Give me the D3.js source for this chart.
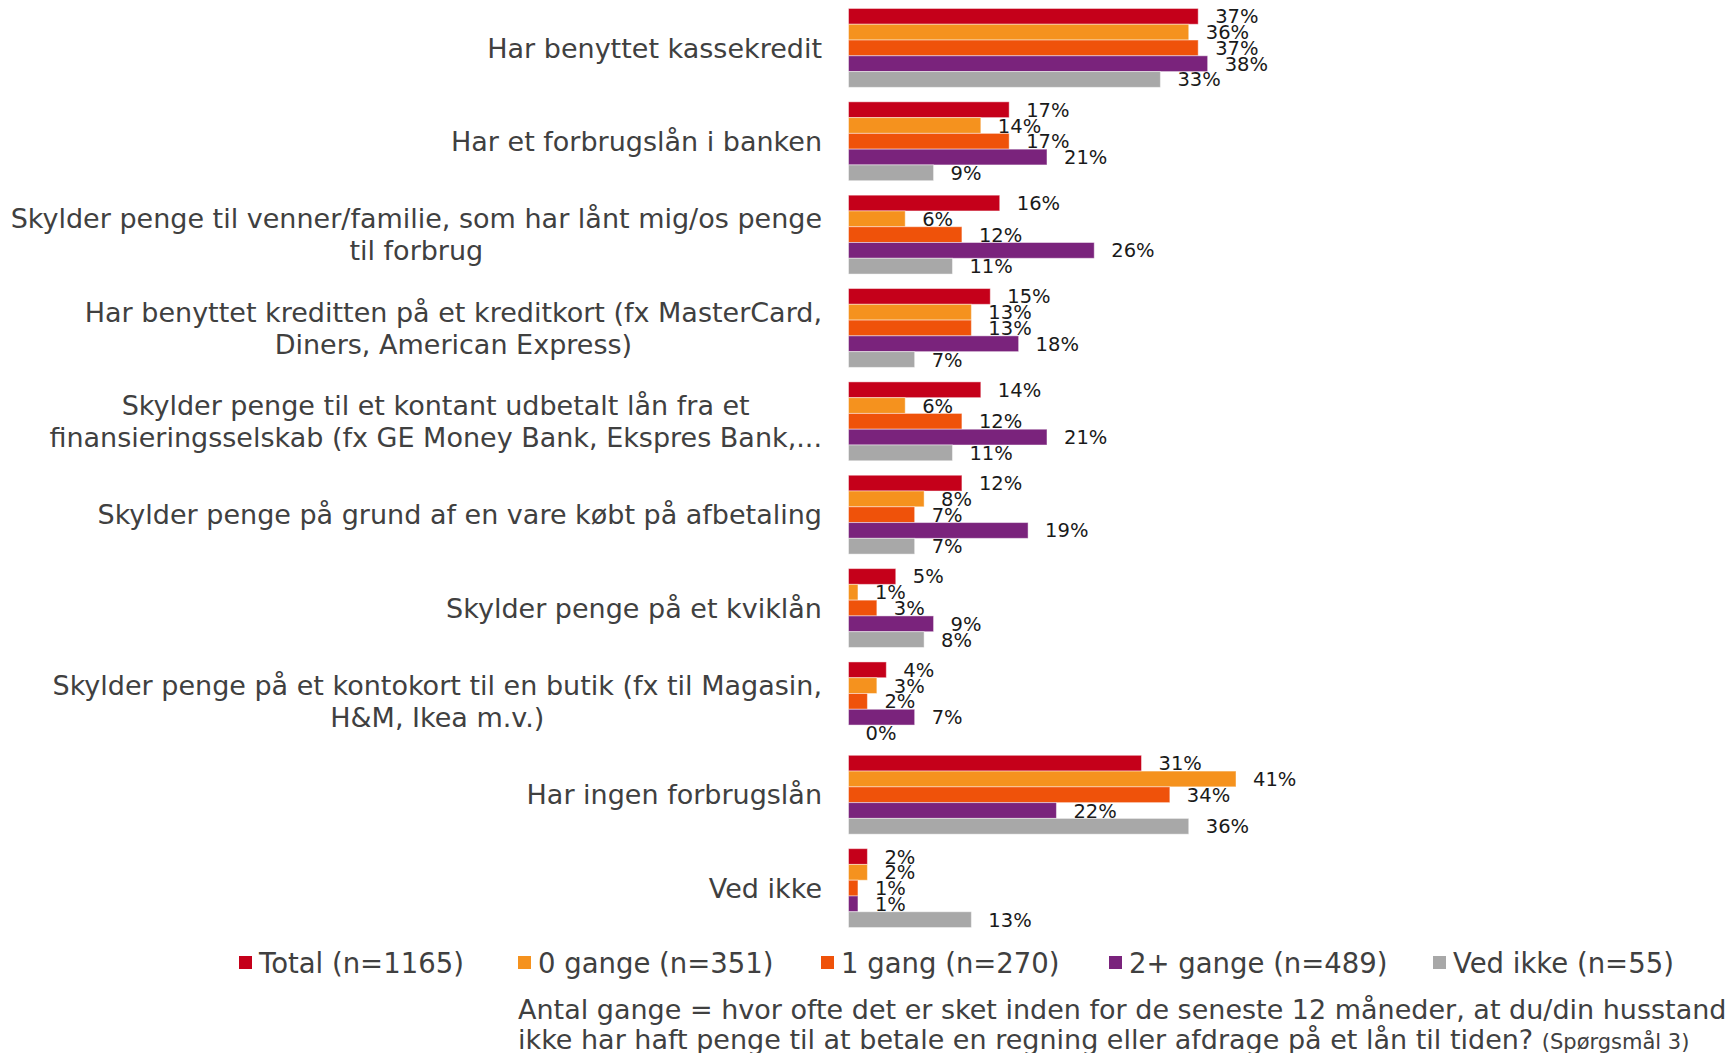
<!DOCTYPE html>
<html>
<head>
<meta charset="utf-8">
<script src="https://cdn.jsdelivr.net/npm/d3@7"></script>
<style>
  body { margin: 0; background: #fff; }
  svg { display: block; font-family: "DejaVu Sans", Verdana, sans-serif; }
</style>
</head>
<body>
<div id="chart"></div>
<script>
// categories (each entry = lines of the label)
const categories = [
  ['Har benyttet kassekredit'],
  ['Har et forbrugslån i banken'],
  ['Skylder penge til venner/familie, som har lånt mig/os penge', 'til forbrug'],
  ['Har benyttet kreditten på et kreditkort (fx MasterCard,', 'Diners, American Express)'],
  ['Skylder penge til et kontant udbetalt lån fra et', 'finansieringsselskab (fx GE Money Bank, Ekspres Bank,...'],
  ['Skylder penge på grund af en vare købt på afbetaling'],
  ['Skylder penge på et kviklån'],
  ['Skylder penge på et kontokort til en butik (fx til Magasin,', 'H&M, Ikea m.v.)'],
  ['Har ingen forbrugslån'],
  ['Ved ikke']
];

const seriesNames = ['Total (n=1165)', '0 gange (n=351)', '1 gang (n=270)', '2+ gange (n=489)', 'Ved ikke (n=55)'];
const seriesColors = ['#c5001a', '#f5921e', '#ef520a', '#7a237c', '#a8a8a8'];

// values in %, one array per series, same order as categories
const total   = [37, 17, 16, 15, 14, 12, 5, 4, 31, 2];
const gange0  = [36, 14, 6, 13, 6, 8, 1, 3, 41, 2];
const gang1   = [37, 17, 12, 13, 12, 7, 3, 2, 34, 1];
const gange2  = [38, 21, 26, 18, 21, 19, 9, 7, 22, 1];
const vedIkke = [33, 9, 11, 7, 11, 7, 8, 0, 36, 13];
const series = [total, gange0, gang1, gange2, vedIkke];

const footnote = [
  'Antal gange = hvor ofte det er sket inden for de seneste 12 måneder, at du/din husstand',
  'ikke har haft penge til at betale en regning eller afdrage på et lån til tiden? '
];
const footnoteRef = '(Spørgsmål 3)';

const width = 1728;
const height = 1053;
const textColor = '#404040';

const svg = d3.select('#chart')
  .append('svg')
  .attr('width', width)
  .attr('height', height);

const x = d3.scaleLinear().domain([0, 41]).range([848.5, 1236]);

const y = d3.scaleBand()
  .domain(d3.range(categories.length))
  .range([1, 935])
  .paddingInner(0.155)
  .paddingOuter(0.08);

const ySub = d3.scaleBand()
  .domain(d3.range(series.length))
  .range([0, y.bandwidth()]);

// flatten into bars
const bars = [];
categories.forEach((c, i) => {
  series.forEach((s, j) => {
    bars.push({ cat: i, ser: j, value: s[i] });
  });
});

const groups = svg.append('g').attr('class', 'bars');

groups.selectAll('rect')
  .data(bars)
  .join('rect')
  .attr('x', x(0))
  .attr('y', (d) => y(d.cat) + ySub(d.ser))
  .attr('width', (d) => x(d.value) - x(0))
  .attr('height', ySub.bandwidth())
  .attr('fill', (d) => seriesColors[d.ser])
  .attr('stroke', 'rgba(255,255,255,0.45)')
  .attr('stroke-width', 1);

groups.selectAll('text')
  .data(bars)
  .join('text')
  .attr('x', (d) => x(d.value) + 17)
  .attr('y', (d) => y(d.cat) + ySub(d.ser) + ySub.bandwidth() / 2)
  .attr('dy', '0.36em')
  .attr('font-size', 19.5)
  .attr('fill', '#1a1a1a')
  .text((d) => d.value + '%');

// category labels, lines centred on each other, block right-aligned
const labelRight = 822;
const lineGap = 32;
const catLabels = svg.append('g').attr('class', 'cat-labels');

categories.forEach((lines, i) => {
  const cy = y(i) + y.bandwidth() / 2;
  const g = catLabels.append('g');
  const texts = lines.map((line, k) => g.append('text')
    .attr('y', cy + (k - (lines.length - 1) / 2) * lineGap)
    .attr('dy', '0.36em')
    .attr('font-size', 27)
    .attr('fill', textColor)
    .attr('text-anchor', 'middle')
    .text(line));
  const maxW = d3.max(texts, (t) => t.node().getComputedTextLength());
  texts.forEach((t) => t.attr('x', labelRight - maxW / 2));
});

// legend
const legendX = [239, 518, 821, 1109, 1433];
const legend = svg.append('g').attr('class', 'legend');
seriesNames.forEach((name, i) => {
  legend.append('rect')
    .attr('x', legendX[i])
    .attr('y', 956)
    .attr('width', 13)
    .attr('height', 13)
    .attr('fill', seriesColors[i]);
  legend.append('text')
    .attr('x', legendX[i] + 20)
    .attr('y', 963)
    .attr('dy', '0.36em')
    .attr('font-size', 27.5)
    .attr('fill', textColor)
    .text(name);
});

// footnote
const note = svg.append('g').attr('class', 'note');
note.append('text')
  .attr('x', 518)
  .attr('y', 1009)
  .attr('dy', '0.36em')
  .attr('font-size', 27)
  .attr('fill', textColor)
  .text(footnote[0]);
const note2 = note.append('text')
  .attr('x', 518)
  .attr('y', 1039)
  .attr('dy', '0.36em')
  .attr('font-size', 27)
  .attr('fill', textColor);
note2.append('tspan').text(footnote[1]);
note2.append('tspan').attr('font-size', 21).text(footnoteRef);
</script>
</body>
</html>
